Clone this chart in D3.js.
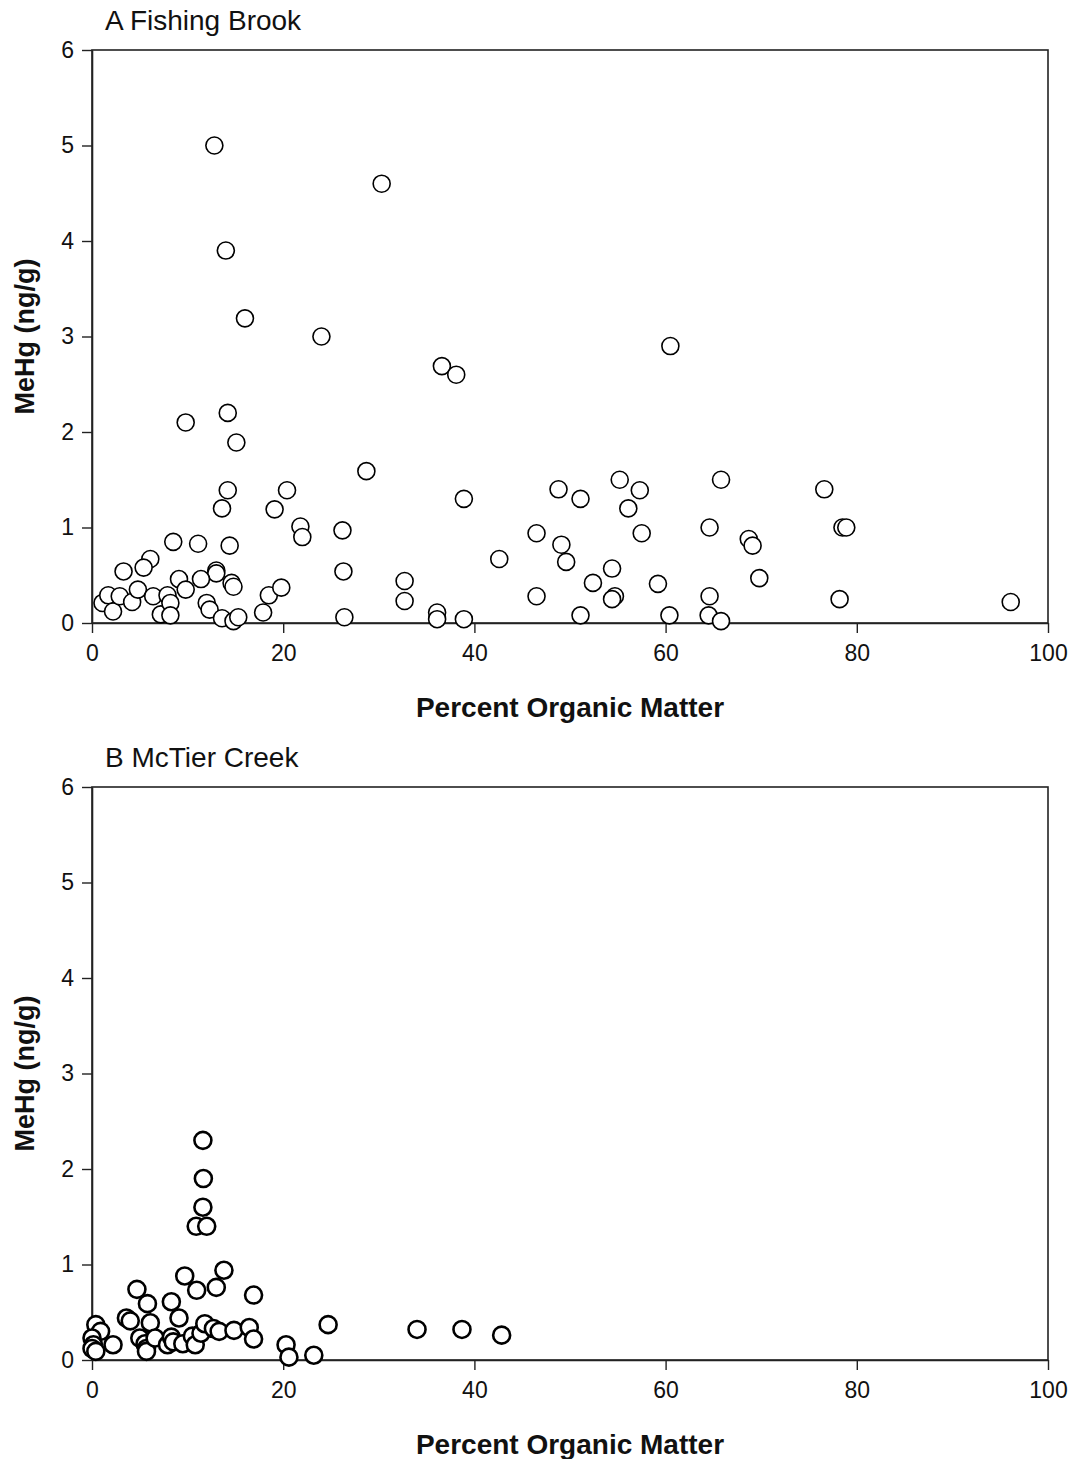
<!DOCTYPE html>
<html>
<head>
<meta charset="utf-8">
<style>
  body { margin: 0; background: #fff; }
  svg { display: block; font-family: "Liberation Sans", Arial, sans-serif; }
</style>
</head>
<body>
<svg id="chart"></svg>
<script src="https://cdnjs.cloudflare.com/ajax/libs/d3/7.8.5/d3.min.js"></script>
<script>
// Panel A: Fishing Brook (percent organic matter, MeHg ng/g)
const fishingOM = [12.8, 30.3, 14.0, 16.0, 24.0, 36.6, 38.1, 60.5,
  9.8, 14.2, 15.1, 28.7, 14.2, 20.4, 13.6, 19.1, 38.9, 21.8, 22.0, 26.2,
  14.4, 11.1, 8.5, 6.1, 5.4, 3.3, 13.0, 13.0, 26.3, 32.7, 42.6, 46.5,
  48.8, 49.1, 49.6, 51.1, 55.2, 56.1, 57.3, 57.5, 54.4, 52.4, 59.2,
  64.6, 65.8, 68.7, 69.1, 69.8, 76.6, 78.5, 78.9, 78.2, 96.1,
  1.1, 1.7, 2.2, 2.9, 4.2, 4.8, 6.4, 7.2, 7.9, 8.2, 8.2, 9.1, 9.8,
  11.4, 12.0, 12.3, 13.6, 14.6, 14.8, 14.8, 15.3, 17.9, 18.5, 19.8,
  26.4, 32.7, 36.1, 36.1, 38.9, 46.5, 51.1, 54.7, 54.4, 60.4,
  64.6, 64.5, 65.8];
const fishingMeHg = [5.0, 4.6, 3.9, 3.19, 3.0, 2.69, 2.6, 2.9,
  2.1, 2.2, 1.89, 1.59, 1.39, 1.39, 1.2, 1.19, 1.3, 1.01, 0.9, 0.97,
  0.81, 0.83, 0.85, 0.67, 0.58, 0.54, 0.55, 0.52, 0.54, 0.44, 0.67, 0.94,
  1.4, 0.82, 0.64, 1.3, 1.5, 1.2, 1.39, 0.94, 0.57, 0.42, 0.41,
  1.0, 1.5, 0.88, 0.81, 0.47, 1.4, 1.0, 1.0, 0.25, 0.22,
  0.21, 0.29, 0.12, 0.28, 0.22, 0.35, 0.28, 0.09, 0.29, 0.21, 0.08, 0.46, 0.35,
  0.46, 0.21, 0.14, 0.05, 0.42, 0.38, 0.02, 0.06, 0.11, 0.29, 0.37,
  0.06, 0.23, 0.11, 0.04, 0.04, 0.28, 0.08, 0.28, 0.25, 0.08,
  0.28, 0.08, 0.02];

// Panel B: McTier Creek
const mctierOM = [11.6, 11.65, 11.6, 10.9, 12.0, 13.8, 9.7, 10.95, 13.0, 16.9,
  4.7, 5.8, 8.3, 3.6, 4.0, 6.1, 9.1, 24.7, 34.0, 38.7, 42.85,
  0.4, 0.9, 0.0, 0.15, 0.0, 0.4, 2.2, 5.0, 5.55, 5.7, 5.7, 6.6,
  7.9, 8.3, 8.5, 9.5, 10.5, 10.8, 11.4, 11.8, 12.7, 13.3, 14.85,
  16.45, 16.9, 20.3, 20.6, 23.2];
const mctierMeHg = [2.3, 1.9, 1.6, 1.4, 1.4, 0.94, 0.88, 0.73, 0.76, 0.68,
  0.74, 0.59, 0.61, 0.44, 0.41, 0.39, 0.44, 0.37, 0.32, 0.32, 0.26,
  0.37, 0.3, 0.23, 0.16, 0.12, 0.09, 0.16, 0.23, 0.17, 0.12, 0.09, 0.23,
  0.16, 0.24, 0.19, 0.17, 0.25, 0.16, 0.28, 0.38, 0.33, 0.3, 0.31,
  0.34, 0.22, 0.16, 0.03, 0.05];

const xTicks = [0, 20, 40, 60, 80, 100];
const yTicks = [0, 1, 2, 3, 4, 5, 6];

const panels = [
  { title: "A Fishing Brook", om: fishingOM, mehg: fishingMeHg, top: 50, stroke: 1.6 },
  { title: "B McTier Creek", om: mctierOM, mehg: mctierMeHg, top: 787, stroke: 2.6 }
];

const W = 1070, H = 1459;
const left = 92, right = 1048, plotH = 573;

const svg = d3.select("#chart").attr("width", W).attr("height", H);

panels.forEach(p => {
  const x = d3.scaleLinear().domain([0, 100]).range([left, right]);
  const y = d3.scaleLinear().domain([0, 6]).range([p.top + plotH, p.top]);
  const g = svg.append("g");

  // frame
  g.append("rect")
    .attr("x", left).attr("y", p.top)
    .attr("width", right - left).attr("height", plotH)
    .attr("fill", "none").attr("stroke", "#222").attr("stroke-width", 1.6);

  const xAxis = g.append("g")
    .attr("transform", `translate(0,${p.top + plotH})`)
    .call(d3.axisBottom(x).tickValues(xTicks).tickFormat(d3.format("d"))
      .tickSize(10).tickPadding(12).tickSizeOuter(0));
  const yAxis = g.append("g")
    .attr("transform", `translate(${left},0)`)
    .call(d3.axisLeft(y).tickValues(yTicks).tickFormat(d3.format("d"))
      .tickSize(10).tickPadding(8).tickSizeOuter(0));

  [xAxis, yAxis].forEach(a => {
    a.select(".domain").attr("stroke", "#222").attr("stroke-width", 1.6);
    a.selectAll(".tick line").attr("stroke", "#222").attr("stroke-width", 1.4);
    a.selectAll(".tick text").attr("fill", "#111").style("font-size", "23px");
  });

  g.append("text")
    .attr("x", 105).attr("y", p.top - 20)
    .style("font-size", "28px").attr("fill", "#111")
    .text(p.title);

  g.append("text")
    .attr("x", (left + right) / 2).attr("y", p.top + plotH + 94)
    .attr("text-anchor", "middle")
    .style("font-size", "28px").style("font-weight", "bold").attr("fill", "#111")
    .text("Percent Organic Matter");

  g.append("text")
    .attr("transform", `translate(34,${p.top + plotH / 2}) rotate(-90)`)
    .attr("text-anchor", "middle")
    .style("font-size", "27px").style("font-weight", "bold").attr("fill", "#111")
    .text("MeHg (ng/g)");

  const pts = p.om.map((v, i) => ({ om: v, mehg: p.mehg[i] }));
  g.append("g")
    .selectAll("circle")
    .data(pts)
    .join("circle")
    .attr("cx", d => x(d.om))
    .attr("cy", d => y(d.mehg))
    .attr("r", 8.5)
    .attr("fill", "#fff")
    .attr("stroke", "#000")
    .attr("stroke-width", p.stroke);
});
</script>
</body>
</html>
